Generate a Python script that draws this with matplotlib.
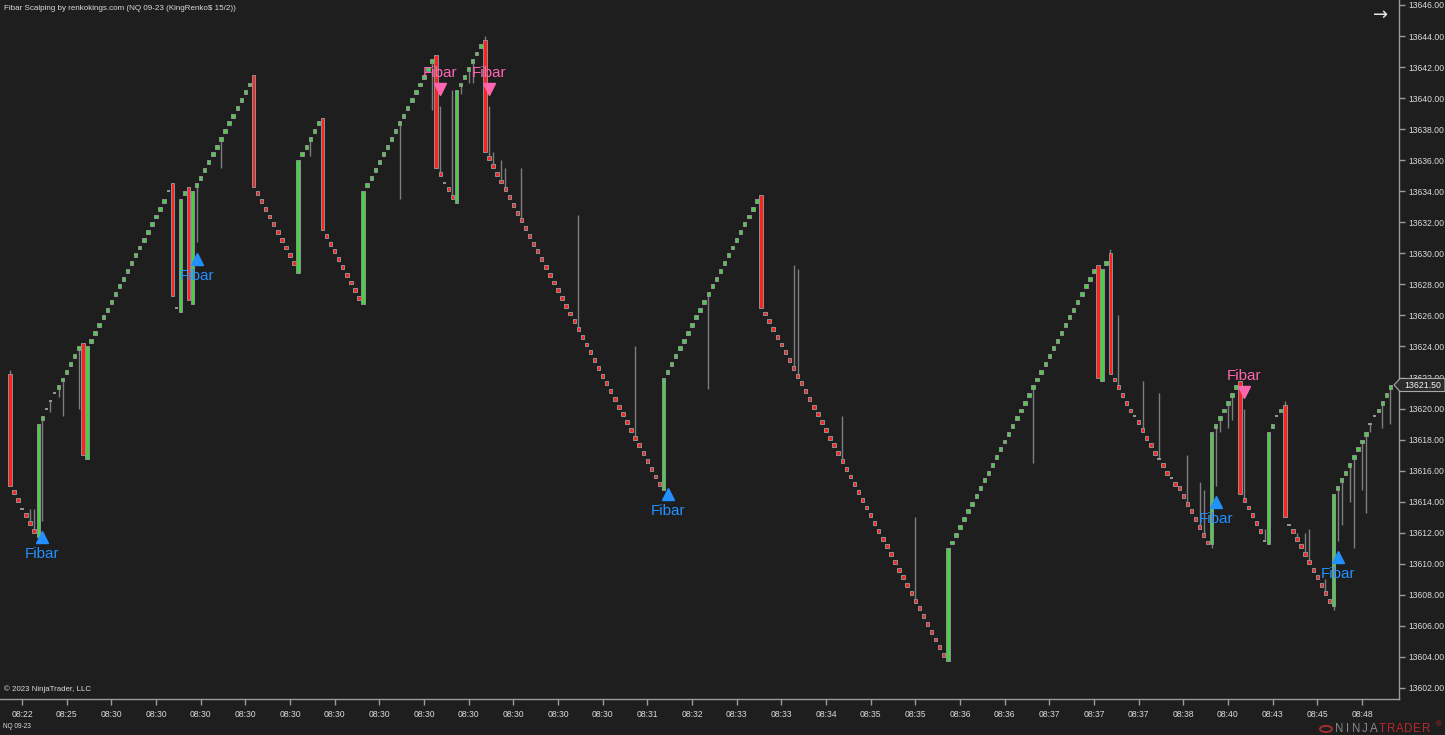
import numpy as np
import matplotlib
matplotlib.use('Agg')
import matplotlib.pyplot as plt
from matplotlib.patches import Polygon, Circle

plt.rcParams['font.family'] = ['Liberation Sans', 'DejaVu Sans']

W, H = 1445, 735
BG = '#1e1e1e'
GREEN = '#45d045'
RED = '#ff2020'
EDGE = '#909090'
WICK = '#7d7d7d'
TXT = '#dadada'
BLUE = '#2290ff'
PINK = '#ff66b0'
BRICK = 0.25

# ---- renko bars (close of every bar, left to right) ----
closes = [
    13615.0, 13614.5, 13614.0, 13613.5, 13613.0, 13612.5, 13612.0,
    13619.0, 13619.5, 13620.0, 13620.5, 13621.0, 13621.5, 13622.0, 13622.5,
    13623.0, 13623.5, 13624.0, 13617.0, 13624.0,
    13624.5, 13625.0, 13625.5, 13626.0, 13626.5, 13627.0, 13627.5, 13628.0,
    13628.5, 13629.0, 13629.5, 13630.0, 13630.5, 13631.0, 13631.5, 13632.0,
    13632.5, 13633.0, 13633.5, 13634.0,
    13627.25, 13626.5, 13633.5, 13634.0, 13627.0, 13634.0,
    13634.5, 13635.0, 13635.5, 13636.0, 13636.5, 13637.0, 13637.5, 13638.0,
    13638.5, 13639.0, 13639.5, 13640.0, 13640.5, 13641.0,
    13634.25,
    13633.75, 13633.25, 13632.75, 13632.25, 13631.75, 13631.25, 13630.75,
    13630.25, 13629.75, 13629.25,
    13636.0, 13636.5, 13637.0, 13637.5, 13638.0, 13638.5,
    13631.5, 13631.0, 13630.5, 13630.0, 13629.5, 13629.0, 13628.5, 13628.0,
    13627.5, 13627.0,
    13634.0, 13634.5, 13635.0, 13635.5, 13636.0, 13636.5, 13637.0, 13637.5,
    13638.0, 13638.5, 13639.0, 13639.5, 13640.0, 13640.5, 13641.0, 13641.5,
    13642.0, 13642.5,
    13635.5, 13635.0, 13634.5, 13634.0, 13633.5,
    13640.5, 13641.0, 13641.5, 13642.0, 13642.5, 13643.0, 13643.5,
    13636.5,
    13636.0, 13635.5, 13635.0, 13634.5, 13634.0, 13633.5, 13633.0, 13632.5,
    13632.0, 13631.5, 13631.0, 13630.5, 13630.0, 13629.5, 13629.0, 13628.5,
    13628.0, 13627.5, 13627.0, 13626.5, 13626.0, 13625.5, 13625.0, 13624.5,
    13624.0, 13623.5, 13623.0, 13622.5, 13622.0, 13621.5, 13621.0, 13620.5,
    13620.0, 13619.5, 13619.0, 13618.5, 13618.0, 13617.5, 13617.0, 13616.5,
    13616.0, 13615.5, 13615.0,
    13622.0,
    13622.5, 13623.0, 13623.5, 13624.0, 13624.5, 13625.0, 13625.5, 13626.0,
    13626.5, 13627.0, 13627.5, 13628.0, 13628.5, 13629.0, 13629.5, 13630.0,
    13630.5, 13631.0, 13631.5, 13632.0, 13632.5, 13633.0, 13633.5,
    13626.5,
    13626.0, 13625.5, 13625.0, 13624.5, 13624.0, 13623.5, 13623.0, 13622.5,
    13622.0, 13621.5, 13621.0, 13620.5, 13620.0, 13619.5, 13619.0, 13618.5,
    13618.0, 13617.5, 13617.0, 13616.5, 13616.0, 13615.5, 13615.0, 13614.5,
    13614.0, 13613.5, 13613.0, 13612.5, 13612.0, 13611.5, 13611.0, 13610.5,
    13610.0, 13609.5, 13609.0, 13608.5, 13608.0, 13607.5, 13607.0, 13606.5,
    13606.0, 13605.5, 13605.0, 13604.5, 13604.0,
    13611.0,
    13611.5, 13612.0, 13612.5, 13613.0, 13613.5, 13614.0, 13614.5, 13615.0,
    13615.5, 13616.0, 13616.5, 13617.0, 13617.5, 13618.0, 13618.5, 13619.0,
    13619.5, 13620.0, 13620.5, 13621.0, 13621.5, 13622.0, 13622.5, 13623.0,
    13623.5, 13624.0, 13624.5, 13625.0, 13625.5, 13626.0, 13626.5, 13627.0,
    13627.5, 13628.0, 13628.5, 13629.0,
    13622.0, 13629.0, 13629.5, 13622.25,
    13621.75, 13621.25, 13620.75, 13620.25, 13619.75, 13619.5, 13619.0, 13618.5,
    13618.0, 13617.5, 13617.0, 13616.75, 13616.25, 13615.75, 13615.5, 13615.0,
    13614.75, 13614.25, 13613.75, 13613.25, 13612.75, 13612.25, 13611.75, 13611.25,
    13618.5, 13619.0, 13619.5, 13620.0, 13620.5, 13621.0, 13621.5,
    13614.5, 13614.0, 13613.5, 13613.0, 13612.5, 13612.0, 13611.5,
    13618.5, 13619.0, 13619.5, 13620.0,
    13613.0, 13612.5, 13612.0, 13611.5, 13611.0, 13610.5, 13610.0, 13609.5,
    13609.0, 13608.5, 13608.0, 13607.5,
    13614.5, 13615.0, 13615.5, 13616.0, 13616.5, 13617.0, 13617.5, 13618.0,
    13618.5, 13619.0, 13619.5, 13620.0, 13620.5, 13621.0, 13621.5,
]

# open of the tall reversal bars
tall_open = {
    0: 13622.25, 7: 13611.75, 18: 13624.25, 19: 13616.75, 40: 13634.5,
    42: 13626.25, 44: 13634.25, 45: 13626.75, 60: 13641.5, 71: 13628.75,
    77: 13638.75, 87: 13626.75, 105: 13642.75, 110: 13633.25, 117: 13643.75,
    161: 13614.75, 185: 13633.75, 231: 13603.75, 268: 13629.25, 269: 13621.75,
    271: 13630.0, 296: 13611.25, 303: 13621.75, 310: 13611.25, 314: 13620.25,
    326: 13607.25,
}
doji_bars = [3, 9, 10, 11, 39, 41, 107, 277, 283, 286, 309, 312, 315, 335, 336]

# visible wicks
wick_hi = {0: 13622.5, 5: 13613.5, 6: 13613.5, 106: 13639.5, 109: 13640.5,
           117: 13644.0, 118: 13639.5, 119: 13636.5, 121: 13636.0, 122: 13635.5,
           126: 13635.5, 140: 13632.5, 154: 13624.0, 193: 13629.25, 194: 13629.0,
           205: 13619.5, 223: 13613.0, 271: 13630.25, 273: 13626.0, 279: 13621.75,
           283: 13621.0, 290: 13617.0, 293: 13615.25, 294: 13614.75, 304: 13620.0,
           309: 13612.25, 314: 13620.5, 317: 13612.0, 319: 13612.0, 320: 13612.25,
           324: 13609.0}
wick_lo = {8: 13612.75, 10: 13619.75, 12: 13620.75, 13: 13619.5, 17: 13620.0,
           46: 13630.75, 52: 13635.5, 74: 13636.25, 96: 13633.5, 104: 13639.25,
           111: 13640.25, 113: 13641.0, 114: 13641.0, 172: 13621.25, 252: 13616.5,
           296: 13611.0, 297: 13615.0, 298: 13618.5, 300: 13618.75, 301: 13619.25,
           313: 13619.75, 326: 13607.0, 327: 13611.5, 328: 13612.5, 330: 13614.0,
           331: 13611.0, 333: 13614.75, 334: 13613.25, 335: 13618.5, 338: 13618.75,
           340: 13619.0}

# Fibar signals
sig_bar = [8, 46, 106, 118, 162, 297, 304, 327]
sig_price = [13611.73, 13629.64, 13640.59, 13640.59, 13614.5, 13613.98, 13621.07, 13610.44]
sig_side = ['buy', 'buy', 'sell', 'sell', 'buy', 'buy', 'sell', 'buy']

tick_bars = list(range(3, 334, 11))
tick_labels = ['08:22', '08:25'] + ['08:30'] * 12 + [
    '08:31', '08:32', '08:33', '08:33', '08:34', '08:35', '08:35', '08:36',
    '08:36', '08:37', '08:37', '08:37', '08:38', '08:40', '08:43', '08:45', '08:48']
last_price = 13621.50


def fx(x):
    return x / W


def fy(y):
    return 1 - y / H


n = len(closes)
x = np.arange(n)
c = np.array(closes)
o = np.empty(n)
for i in range(n):
    if i in tall_open:
        o[i] = tall_open[i]
    elif i in doji_bars:
        o[i] = c[i]
    else:
        d = np.sign(c[i] - c[i - 1]) if i > 0 else -1
        o[i] = c[i] - d * BRICK
hi = np.maximum(o, c)
lo = np.minimum(o, c)
for i, v in wick_hi.items():
    hi[i] = v
for i, v in wick_lo.items():
    lo[i] = v

fig = plt.figure(figsize=(W / 100, H / 100), dpi=100, facecolor=BG)
ax = fig.add_axes([0, fy(699), fx(1399), 699 / H])
ax.set_facecolor(BG)

ax.vlines(x, lo, hi, color=WICK, linewidth=1.0, zorder=2)
up = c > o
dn = c < o
ax.bar(x[up], (c - o)[up], bottom=o[up], width=0.84, color=GREEN,
       edgecolor=EDGE, linewidth=0.7, zorder=3)
ax.bar(x[dn], (o - c)[dn], bottom=c[dn], width=0.84, color=RED,
       edgecolor=EDGE, linewidth=0.7, zorder=3)
dj = np.array(doji_bars)
ax.hlines(c[dj], dj - 0.4, dj + 0.4, color='#a0a0a0', linewidth=1.3, zorder=3)

for b, p, s in zip(sig_bar, sig_price, sig_side):
    if s == 'buy':
        ax.plot(b, p, marker='^', color=BLUE, markersize=8.5, zorder=5, linestyle='none')
        ax.text(b, p - 1.12, 'Fibar', color=BLUE, fontsize=11, ha='center',
                va='center', zorder=6)
    else:
        ax.plot(b, p, marker='v', color=PINK, markersize=8.5, zorder=5, linestyle='none')
        ax.text(b, p + 1.05, 'Fibar', color=PINK, fontsize=11, ha='center',
                va='center', zorder=6)

ax.set_xlim(-2.42, 342.12)
ax.set_ylim(13601.29, 13646.32)
ax.yaxis.tick_right()
ax.set_yticks(np.arange(13602, 13647, 2))
ax.set_yticklabels([f'{v:.2f}' for v in np.arange(13602, 13647, 2)])
ax.set_xticks(tick_bars)
ax.set_xticklabels(tick_labels)
for s in ['left', 'top']:
    ax.spines[s].set_visible(False)
for s in ['right', 'bottom']:
    ax.spines[s].set_color('#9c9c9c')
    ax.spines[s].set_linewidth(1.0)
ax.tick_params(axis='both', direction='out', length=4, width=1, color='#9c9c9c',
               labelsize=6.2, labelcolor=TXT)
ax.tick_params(axis='y', pad=3)
ax.tick_params(axis='x', pad=4)

# header / footer texts
fig.text(fx(4), fy(8), 'Fibar Scalping by renkokings.com (NQ 09-23 (KingRenko$ 15/2))',
         color=TXT, fontsize=5.75, va='center', ha='left')
fig.text(fx(4), fy(689), '\u00a9 2023 NinjaTrader, LLC', color=TXT, fontsize=5.7,
         va='center', ha='left')
fig.text(fx(3), fy(727), 'NQ 09-23', color=TXT, fontsize=4.7, va='center', ha='left')
fig.text(fx(1381), fy(15), '\u2192', color='#e6e6e6', fontsize=13, va='center',
         ha='center', family='DejaVu Sans')

# current price marker
pts = [(1394, 385), (1400, 378.5), (1445, 378.5), (1445, 391.5), (1400, 391.5)]
fig.patches.append(Polygon([(fx(a), fy(b)) for a, b in pts], closed=True,
                           transform=fig.transFigure, facecolor='#2c2c2c',
                           edgecolor='#a8a8a8', linewidth=0.8, zorder=1))
fig.text(fx(1423), fy(385), f'{last_price:.2f}', color='#f4f4f4', fontsize=6.3,
         va='center', ha='center', zorder=4)

# NinjaTrader logo
fig.patches.append(Circle((fx(1326), fy(729)), 6 / W, transform=fig.transFigure,
                          facecolor='none', edgecolor='#a03030', linewidth=1.4))
for k, ch in enumerate('NINJATRADER'):
    fig.text(fx(1339 + 8.7 * k), fy(729), ch, color='#8a8a8a' if k < 5 else '#b8282c',
             fontsize=8.3, va='center', ha='center')
fig.text(fx(1436), fy(725), '\u00ae', color='#b8282c', fontsize=5, va='center', ha='left')

fig.savefig('out.png', dpi=100, facecolor=BG)
